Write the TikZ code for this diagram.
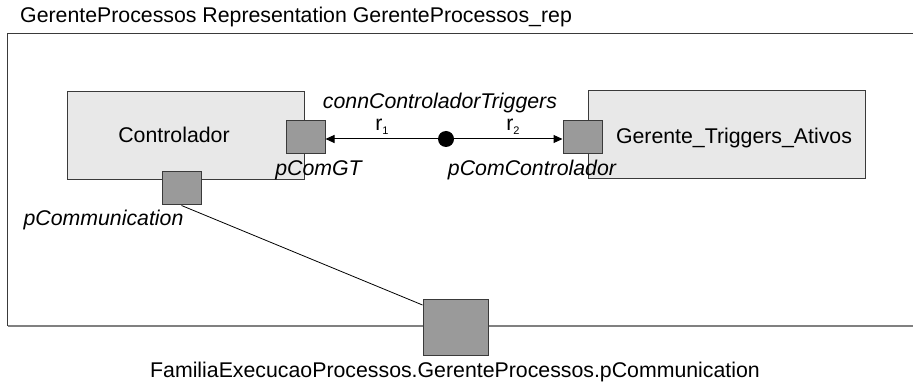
\documentclass[tikz,border=0pt]{standalone}
\usepackage{fontspec}
\setmainfont{Liberation Sans}
\usetikzlibrary{arrows.meta}
\definecolor{boxfill}{HTML}{E8E8E8}
\definecolor{portfill}{HTML}{9A9A9A}
\definecolor{edge}{HTML}{3A3A3A}
\definecolor{framegrey}{HTML}{808080}
\tikzset{
  comp/.style={draw=edge, line width=1pt, fill=boxfill, inner sep=0pt},
  port/.style={draw=edge, line width=1pt, fill=portfill, inner sep=0pt, minimum width=39pt, minimum height=33pt},
  lbl/.style={inner sep=0pt, font=\fontsize{21.3}{24}\selectfont},
  ilbl/.style={lbl, font=\fontsize{21.3}{24}\selectfont\itshape},
  conn/.style={line width=1pt, -{Triangle[length=9pt,width=8pt]}},
}
\begin{document}
\begin{tikzpicture}[x=1pt,y=-1pt]
\useasboundingbox (0,0) rectangle (913,390);
% outer frame
\draw[draw=framegrey, line width=1.6pt] (7.5,326) -- (925,326);
\draw[draw=edge, line width=1.6pt] (7.5,326) -- (7.5,33.5) -- (925,33.5);
\node[lbl, anchor=west] (title) at (20,17) {GerenteProcessos Representation GerenteProcessos\_rep};
% components
\node[comp, minimum width=237pt, minimum height=88pt] (ctrl) at (185.5,136) {};
\node[lbl] (ctrltxt) at (174,135) {Controlador};
\node[comp, minimum width=277pt, minimum height=88pt] (gta) at (726.5,135) {};
\node[lbl] (gtatxt) at (734,138) {Gerente\_Triggers\_Ativos};
% ports
\node[port] (pcomgt) at (305.5,137) {};
\node[port] (pcomm) at (181.5,188.5) {};
\node[port] (pcomc) at (582.5,137) {};
\node[port, minimum width=65pt, minimum height=56pt] (big) at (455.5,327) {};
% connector
\node[circle, fill=black, inner sep=0pt, minimum size=16pt] (dot) at (446,139) {};
\draw[conn] (dot) -- (pcomgt.east |- dot);
\draw[conn] (dot) -- (pcomc.west |- dot);
\draw[line width=0.8pt] (pcomm.south) -- ([yshift=22pt]big.west);
% labels
\node[ilbl] (conntxt) at (440,103) {connControladorTriggers};
\node[lbl] (r1) at (382,127) {r\raisebox{-0.35ex}{\fontsize{11}{12}\selectfont 1}};
\node[lbl] (r2) at (513,127) {r\raisebox{-0.35ex}{\fontsize{11}{12}\selectfont 2}};
\node[ilbl] (pcomgttxt) at (318.5,170) {pComGT};
\node[ilbl] (pcomctxt) at (532,170) {pComControlador};
\node[ilbl] (pcommtxt) at (103.5,220) {pCommunication};
\node[lbl] (bigtxt) at (455,372) {FamiliaExecucaoProcessos.GerenteProcessos.pCommunication};
\end{tikzpicture}
\end{document}
